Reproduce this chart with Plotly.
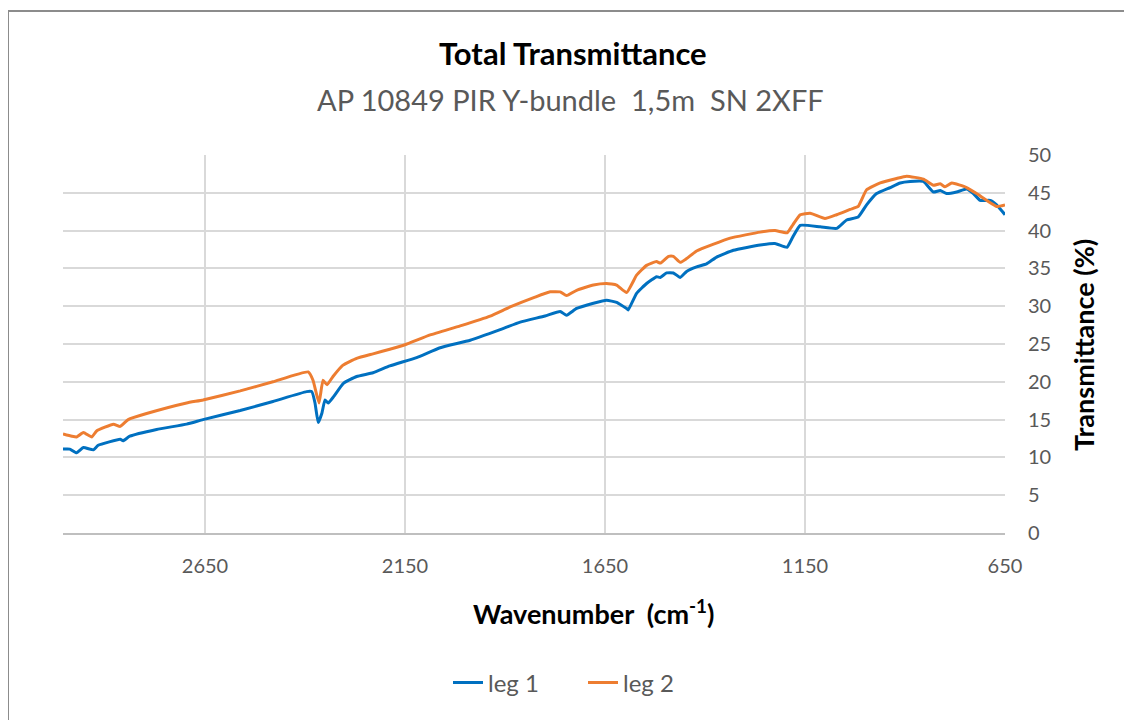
import plotly.graph_objects as go

# ---- data ----
wn_leg1 = [3005, 2988, 2971, 2954, 2929, 2917, 2862, 2855, 2838, 2771, 2696, 2655,
           2562, 2480, 2396, 2383, 2375, 2367, 2358, 2350, 2342, 2329, 2304, 2271,
           2230, 2188, 2121, 2062, 1987, 1912, 1862, 1800, 1762, 1746, 1721, 1679,
           1646, 1621, 1596, 1592, 1571, 1546, 1521, 1512, 1496, 1479, 1462, 1446,
           1421, 1396, 1371, 1329, 1262, 1225, 1195, 1180, 1162, 1112, 1071, 1046,
           1017, 996, 971, 937, 912, 887, 854, 829, 812, 796, 771, 746, 729, 712,
           687, 671, 650]
val_leg1 = [11.1, 11.1, 10.6, 11.3, 11.0, 11.6, 12.4, 12.2, 12.8, 13.7, 14.4, 15.0,
            16.2, 17.4, 18.7, 18.7, 17.2, 14.6, 15.8, 17.6, 17.2, 18.0, 19.8, 20.7,
            21.2, 22.1, 23.2, 24.5, 25.5, 26.9, 27.9, 28.7, 29.3, 28.8, 29.7, 30.4,
            30.8, 30.5, 29.7, 29.5, 31.7, 33.0, 33.9, 33.8, 34.4, 34.4, 33.8, 34.6,
            35.2, 35.6, 36.5, 37.4, 38.1, 38.3, 37.8, 39.2, 40.7, 40.5, 40.3, 41.4,
            41.8, 43.4, 44.9, 45.7, 46.3, 46.5, 46.5, 45.1, 45.3, 44.9, 45.1, 45.5,
            44.9, 44.0, 44.0, 43.4, 42.1]

wn_leg2 = [3005, 2983, 2971, 2954, 2933, 2921, 2879, 2862, 2842, 2796, 2696, 2655,
           2562, 2480, 2392, 2380, 2365, 2355, 2345, 2330, 2305, 2271, 2230, 2188,
           2150, 2087, 2012, 1937, 1887, 1825, 1787, 1762, 1746, 1721, 1679, 1646,
           1621, 1596, 1571, 1546, 1521, 1512, 1491, 1479, 1462, 1446, 1421, 1337,
           1262, 1225, 1195, 1180, 1162, 1137, 1100, 1071, 1037, 1017, 996, 962,
           921, 896, 854, 829, 812, 800, 783, 746, 721, 696, 671, 650]
val_leg2 = [13.1, 12.8, 12.7, 13.3, 12.7, 13.5, 14.4, 14.1, 15.0, 15.8, 17.2, 17.6,
            18.8, 20.0, 21.3, 20.2, 17.2, 20.2, 19.6, 20.7, 22.2, 23.1, 23.7, 24.3,
            24.9, 26.2, 27.4, 28.7, 29.9, 31.2, 31.9, 31.9, 31.4, 32.1, 32.8, 33.0,
            32.8, 31.8, 34.1, 35.4, 35.9, 35.7, 36.6, 36.6, 35.8, 36.3, 37.3, 39.0,
            39.8, 40.0, 39.7, 40.8, 42.1, 42.3, 41.6, 42.1, 42.8, 43.2, 45.4, 46.3,
            46.9, 47.2, 46.8, 46.0, 46.2, 45.8, 46.3, 45.7, 44.9, 44.0, 43.2, 43.4]

x_ticks = [2650, 2150, 1650, 1150, 650]
y_ticks = [0, 5, 10, 15, 20, 25, 30, 35, 40, 45, 50]

series_names = ["leg 1", "leg 2"]
series_colors = ["#0070C0", "#ED7D31"]

FONT = "Lato"
GRAY = "#595959"

fig = go.Figure()
for name, xs, ys, col in zip(series_names, [wn_leg1, wn_leg2], [val_leg1, val_leg2], series_colors):
    fig.add_trace(go.Scatter(x=xs, y=ys, mode="lines", name=name,
                             line=dict(color=col, width=3, shape="spline", smoothing=0.4)))

OFF = 8  # page body margin
W, H = 1132 - OFF, 720 - OFF
PL, PR, PT, PB = 63, 1005, 155, 533   # plot area in screen pixels
L, T = PL - OFF, PT - OFF
R = W - (PR - OFF)
B = H - (PB - OFF)
pw, ph = PR - PL, PB - PT

def px2paper(px, py):
    return (px - PL) / pw, (PB - py) / ph

fig.update_layout(
    width=W, height=H,
    margin=dict(l=L, r=R, t=T, b=B, pad=0),
    paper_bgcolor="white", plot_bgcolor="white",
    font=dict(family=FONT, color=GRAY, size=18),
    showlegend=True,
    legend=dict(orientation="h", x=px2paper(583, 0)[0], xanchor="center",
                y=px2paper(0, 683)[1], yanchor="middle", entrywidth=90,
                font=dict(family=FONT, size=24, color=GRAY)),
    xaxis=dict(range=[3005, 650], tickvals=x_ticks, ticktext=[str(v) for v in x_ticks],
               showgrid=True, gridcolor="#d9d9d9", gridwidth=2,
               showline=True, linecolor="#bfbfbf", linewidth=2,
               ticks="", ticklabelstandoff=14,
               tickfont=dict(size=20, color=GRAY), zeroline=False),
    yaxis=dict(range=[0, 50], tickvals=y_ticks, side="right",
               showgrid=True, gridcolor="#d9d9d9", gridwidth=2,
               showline=False, ticks="", ticklabelstandoff=22,
               tickfont=dict(size=20, color=GRAY), zeroline=False),
)

def note(text, px, py, size, color, angle=0):
    x, y = px2paper(px, py)
    fig.add_annotation(text=text, x=x, y=y, xref="paper", yref="paper",
                       xanchor="center", yanchor="middle", showarrow=False,
                       textangle=angle, font=dict(family=FONT, size=size, color=color))

note("<b>Total Transmittance</b>", 573, 53, 31, "black")
note("AP 10849 PIR Y-bundle  1,5m  SN 2XFF", 570, 100, 29, GRAY)
note("<b>Wavenumber  (cm<sup>-1</sup>)</b>", 593, 612, 27, "black")
note("<b>Transmittance (%)</b>", 1083, 345, 27, "black", angle=-90)

# outer chart frame
x0, y0 = px2paper(8, 11)
x1, y1 = px2paper(1131, 730)
fig.add_shape(type="rect", xref="paper", yref="paper", x0=x0, y0=y1, x1=x1, y1=y0,
              line=dict(color="#8c8c8c", width=2), fillcolor="rgba(0,0,0,0)", layer="above")

fig.write_html("out.html")
